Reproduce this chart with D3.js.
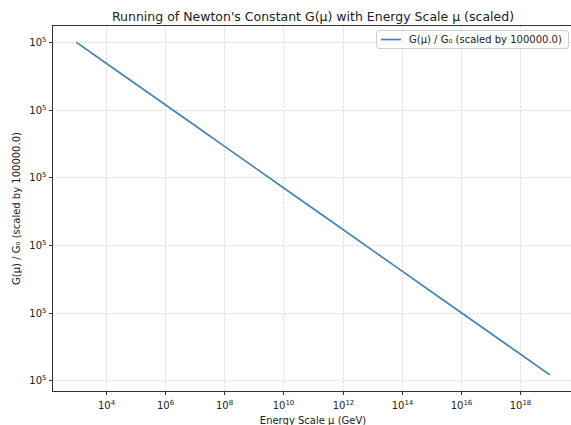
<!DOCTYPE html>
<html><head><meta charset="utf-8">
<script src="https://cdn.jsdelivr.net/npm/d3@7"></script>
<style>
body{margin:0;background:#fff}
svg{display:block;font-family:"DejaVu Sans",sans-serif}
</style>
</head><body><div id="chart"></div>
<script>
// ---- data ----
const energyGeV = [1e3,1e4,1e5,1e6,1e7,1e8,1e9,1e10,1e11,1e12,1e13,1e14,1e15,1e16,1e17,1e18,1e19];
const gScaled = [100000.0000,99999.99385,99999.98770,99999.98156,99999.97541,99999.96926,99999.96311,99999.95697,
                 99999.95082,99999.94467,99999.93852,99999.93238,99999.92623,99999.92008,99999.91393,99999.90779,99999.90164];
const xTickValues = [1e4,1e6,1e8,1e10,1e12,1e14,1e16,1e18];
const xTickExponents = ["4","6","8","10","12","14","16","18"];
const yTickValues = [100000.00,99999.98,99999.96,99999.94,99999.92,99999.90];
const yTickExponents = ["5","5","5","5","5","5"];
const titleText = "Running of Newton's Constant G(μ) with Energy Scale μ (scaled)";
const xLabelText = "Energy Scale μ (GeV)";
const yLabelText = "G(μ) / G₀ (scaled by 100000.0)";
const legendText = "G(μ) / G₀ (scaled by 100000.0)";

// ---- layout ----
const W = 571, H = 425;
const L = 52.5, R = 573.5, T = 25.5, B = 391.5;
const lineColor = "#4682b4";

const svg = d3.select("#chart").append("svg").attr("width", W).attr("height", H);

const lx = energyGeV.map(Math.log10);
const lxMin = d3.min(lx), lxMax = d3.max(lx), lxPad = (lxMax - lxMin) * 0.05;
const x = d3.scaleLog().domain([10 ** (lxMin - lxPad), 10 ** (lxMax + lxPad)]).range([L, R]);

const yMin = d3.min(gScaled), yMax = d3.max(gScaled), yPad = (yMax - yMin) * 0.05;
const y = d3.scaleLog().domain([yMin - yPad, yMax + yPad]).range([B, T]);

// grid
const grid = svg.append("g").attr("stroke", "#b8b8b8").attr("stroke-width", 0.8)
  .attr("stroke-dasharray", "2,2").attr("opacity", 0.7);
grid.selectAll(".gx").data(xTickValues).join("line")
  .attr("x1", d => Math.round(x(d)) + 0.5).attr("x2", d => Math.round(x(d)) + 0.5)
  .attr("y1", T).attr("y2", B);
grid.selectAll(".gy").data(yTickValues).join("line")
  .attr("y1", d => Math.round(y(d)) + 0.5).attr("y2", d => Math.round(y(d)) + 0.5)
  .attr("x1", L).attr("x2", R);

// line
svg.append("path").datum(energyGeV.map((e, i) => [e, gScaled[i]]))
  .attr("fill", "none").attr("stroke", lineColor).attr("stroke-width", 1.7)
  .attr("d", d3.line().x(d => x(d[0])).y(d => y(d[1])));

// frame
svg.append("rect").attr("x", L).attr("y", T).attr("width", R - L).attr("height", B - T)
  .attr("fill", "none").attr("stroke", "#333").attr("stroke-width", 1);

// x ticks
const xt = svg.append("g").selectAll("g").data(xTickValues).join("g")
  .attr("transform", d => `translate(${Math.round(x(d)) + 0.5},${B})`);
xt.append("line").attr("y1", 0).attr("y2", 3.5).attr("stroke", "#333");
const xtxt = xt.append("text").attr("y", 17.5).attr("text-anchor", "middle")
  .attr("font-size", 10).attr("fill", "#222");
xtxt.append("tspan").text("10");
xtxt.append("tspan").attr("dy", -4.5).attr("font-size", 7).text((d, i) => xTickExponents[i]);

// y ticks
const yt = svg.append("g").selectAll("g").data(yTickValues).join("g")
  .attr("transform", d => `translate(${L},${Math.round(y(d)) + 0.5})`);
yt.append("line").attr("x1", 0).attr("x2", -3.5).attr("stroke", "#333");
const ytxt = yt.append("text").attr("x", -6).attr("y", 3.5).attr("text-anchor", "end")
  .attr("font-size", 10).attr("fill", "#222");
ytxt.append("tspan").text("10");
ytxt.append("tspan").attr("dy", -4.5).attr("font-size", 7).text((d, i) => yTickExponents[i]);

// title and axis labels
svg.append("text").attr("x", (L + R) / 2).attr("y", 20.5).attr("text-anchor", "middle")
  .attr("font-size", 12.5).attr("fill", "#222").text(titleText);
svg.append("text").attr("x", (L + R) / 2).attr("y", 423.5).attr("text-anchor", "middle")
  .attr("font-size", 10).attr("fill", "#222").text(xLabelText);
svg.append("text").attr("transform", `translate(19.5,${(T + B) / 2}) rotate(-90)`)
  .attr("text-anchor", "middle").attr("font-size", 10).attr("fill", "#222").text(yLabelText);

// legend
const lg = svg.append("g");
lg.append("rect").attr("x", 376.5).attr("y", 30.5).attr("width", 192).attr("height", 18)
  .attr("rx", 2.5).attr("fill", "#fff").attr("fill-opacity", 0.8)
  .attr("stroke", "#d0d0d0").attr("stroke-width", 1);
lg.append("line").attr("x1", 381).attr("x2", 401).attr("y1", 39.5).attr("y2", 39.5)
  .attr("stroke", lineColor).attr("stroke-width", 1.7);
lg.append("text").attr("x", 409).attr("y", 43).attr("font-size", 10).attr("fill", "#222").text(legendText);
</script>
</body></html>
